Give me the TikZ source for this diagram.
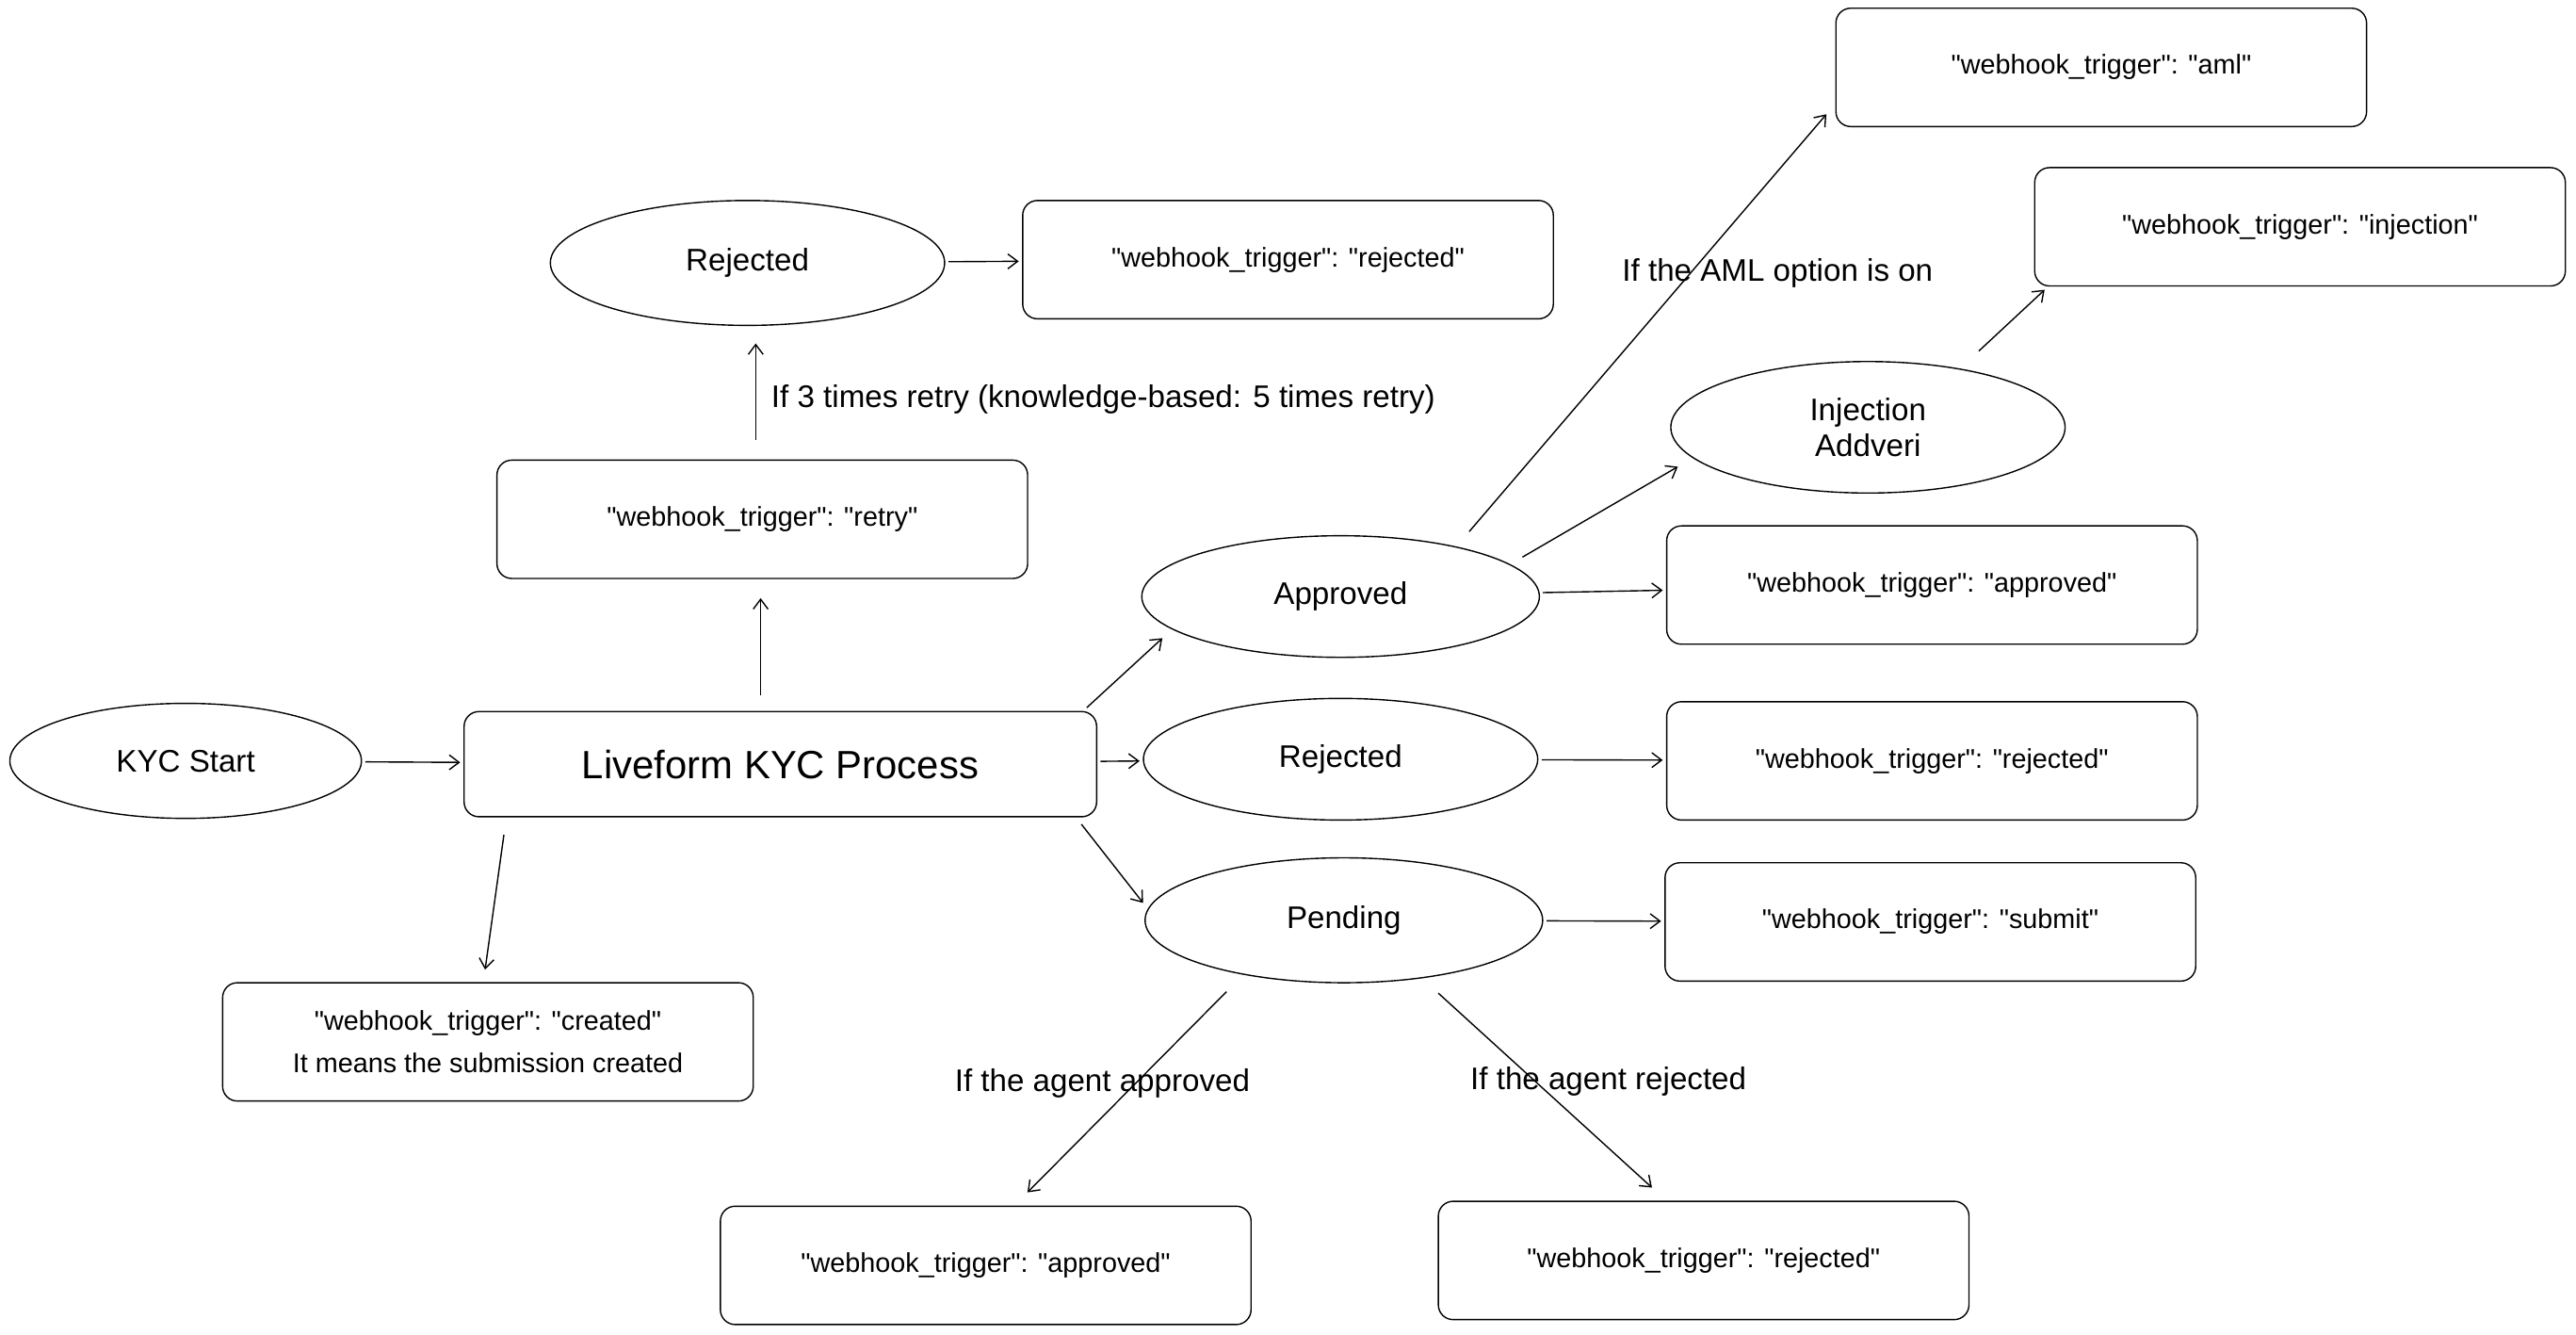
\documentclass[tikz,border=0pt]{standalone}
\usepackage{fontspec}
\setmainfont{Liberation Sans}[Ligatures=TeXOff]
\newcommand\qq{"}
\usetikzlibrary{shapes.geometric,arrows.meta}
\begin{document}
\begin{tikzpicture}[x=1pt,y=-1pt,
  box/.style={draw,thick,rounded corners=9pt,minimum width=323pt,minimum height=72pt,font=\fontsize{16.5}{22}\selectfont,align=center},
  ell/.style={draw,thick,ellipse,font=\fontsize{19}{22}\selectfont,align=center},
  lab/.style={font=\fontsize{19}{22}\selectfont},
  arr/.style={thick,-{Straight Barb[length=6pt,width=9pt]},shorten <=2pt,shorten >=2pt}]
\useasboundingbox (0,0) rectangle (1568,812);
\fill[white] (0,0) rectangle (1568,812);
\node[ell,minimum width=214pt,minimum height=70pt] (start) at (113,463) {KYC Start};
\node[box,minimum width=385pt,minimum height=64pt,font=\fontsize{24}{28}\selectfont] (live) at (475,465) {Liveform KYC Process};
\node[box] (retry) at (464,316) {\qq webhook\_trigger\qq: \qq retry\qq};
\node[ell,minimum width=240pt,minimum height=76pt] (rej1) at (455,160) {Rejected};
\node[box] (rejb1) at (784,158) {\qq webhook\_trigger\qq: \qq rejected\qq};
\node[box] (created) at (297,634) {\qq webhook\_trigger\qq: \qq created\qq\\[4pt]It means the submission created};
\node[ell,minimum width=242pt,minimum height=74pt] (appr) at (816,363) {Approved};
\node[ell,minimum width=240pt,minimum height=74pt] (rej2) at (816,462) {Rejected};
\node[ell,minimum width=242pt,minimum height=76pt] (pend) at (818,560) {Pending};
\node[box] (apprb) at (1176,356) {\qq webhook\_trigger\qq: \qq approved\qq};
\node[box] (rejb2) at (1176,463) {\qq webhook\_trigger\qq: \qq rejected\qq};
\node[box] (subb) at (1175,561) {\qq webhook\_trigger\qq: \qq submit\qq};
\node[ell,minimum width=240pt,minimum height=80pt] (inj) at (1137,260) {Injection\\Addveri};
\node[box] (aml) at (1279,41) {\qq webhook\_trigger\qq: \qq aml\qq};
\node[box] (injb) at (1400,138) {\qq webhook\_trigger\qq: \qq injection\qq};
\node[box] (apprb2) at (600,770) {\qq webhook\_trigger\qq: \qq approved\qq};
\node[box] (rejb3) at (1037,767) {\qq webhook\_trigger\qq: \qq rejected\qq};
\draw[arr] (start) -- (live);
\coordinate (a1) at (463,425); \coordinate (a2) at (463,362);
\draw[arr] (a1) -- (a2);
\coordinate (b1) at (460,270); \coordinate (b2) at (460,207);
\draw[arr] (b1) -- (b2);
\draw[arr] (rej1) -- (rejb1);
\coordinate (c1) at (307,506);
\coordinate (c1e) at (295,592);
\draw[arr] (c1) -- (c1e);
\coordinate (d1) at (660,432); \coordinate (d2) at (709,387);
\draw[arr] (d1) -- (d2);
\draw[arr] (live) -- (rej2);
\coordinate (e1) at (657,500); \coordinate (e2) at (697,551);
\draw[arr] (e1) -- (e2);
\draw[arr] (appr) -- (apprb);
\draw[arr] (rej2) -- (rejb2);
\draw[arr] (pend) -- (subb);
\coordinate (f1) at (925,340); \coordinate (f2) at (1023,283);
\draw[arr] (f1) -- (f2);
\coordinate (c2) at (893,325); \coordinate (c2e) at (1113,68);
\draw[arr] (c2) -- (c2e);
\coordinate (g1) at (1203,215); \coordinate (g2) at (1246,175);
\draw[arr] (g1) -- (g2);
\coordinate (c3) at (748,602); \coordinate (c3e) at (624,727);
\coordinate (c4) at (874,603); \coordinate (c4e) at (1007,724);
\draw[arr] (c3) -- (c3e);
\draw[arr] (c4) -- (c4e);
\node[lab,anchor=west] (l1) at (466,243) {If 3 times retry (knowledge-based: 5 times retry)};
\node[lab] (l2) at (1082,166) {If the AML option is on};
\node[lab] (l3) at (671,659) {If the agent approved};
\node[lab] (l4) at (979,658) {If the agent rejected};
\end{tikzpicture}
\end{document}
